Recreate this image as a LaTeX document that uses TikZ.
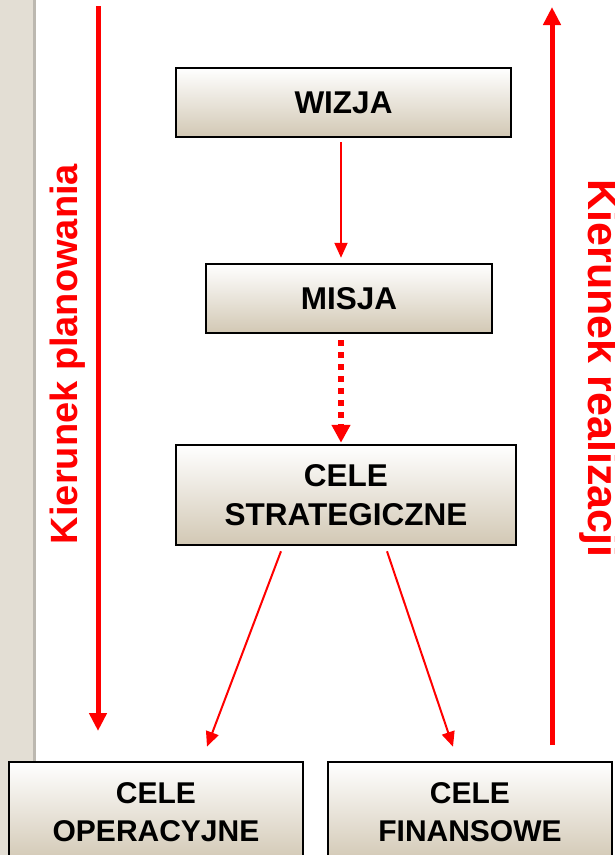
\documentclass[tikz,border=0pt]{standalone}
\usepackage{fontspec}
\setmainfont{Liberation Sans}
\usetikzlibrary{arrows.meta}
\definecolor{boxbeige}{RGB}{210,200,180}
\definecolor{stripbeige}{RGB}{227,222,212}
\definecolor{stripedge}{RGB}{188,184,176}
\tikzset{
  box/.style={draw=black,line width=2.5pt,top color=white,bottom color=boxbeige,
    font=\fontsize{31.5}{39}\selectfont\bfseries,align=center,inner sep=0pt},
  thinarr/.style={red,line width=2pt,-{Triangle[width=13pt,length=15pt]}},
  dotarr/.style={red,line width=6pt,dash pattern=on 6pt off 6pt,-{Triangle[width=18pt,length=18pt]}},
  bigarr/.style={red,line width=5pt,-{Triangle[width=17pt,length=18pt]}},
  side/.style={red,font=\fontsize{38}{40}\selectfont\bfseries,inner sep=0pt}
}

\begin{document}
\begin{tikzpicture}[x=1pt,y=-1pt]
            \path[use as bounding box] (0,0) rectangle (614,855);
            \clip (0,0) rectangle (614,855);
            % left strip
            \fill[stripbeige] (0,0) rectangle (34,855);
            \fill[stripedge] (33,0) rectangle (36,855);
            % boxes
            \node[box,minimum width=335pt,minimum height=69pt] (wizja) at (343.5,102.5) {WIZJA};
            \node[box,minimum width=286pt,minimum height=69pt] (misja) at (349,298.5) {MISJA};
            \node[box,minimum width=340pt,minimum height=100pt] (strat) at (346,495) {CELE\\STRATEGICZNE};
            \node[box,minimum width=294pt,minimum height=100pt,font=\fontsize{30}{38}\selectfont\bfseries] (oper) at (156,812) {CELE\\OPERACYJNE};
            \node[box,minimum width=284pt,minimum height=100pt,font=\fontsize{30}{38}\selectfont\bfseries] (fin) at (470,812) {CELE\\FINANSOWE};
            % links
            \draw[thinarr]([xshift=-2.5pt,yshift=-4pt]wizja.south)--([xshift=-8pt,yshift=5pt]misja.north);
            \draw[dotarr]([xshift=-8pt,yshift=-6pt]misja.south)--([xshift=-5pt,yshift=1pt]strat.north);
            \draw[thinarr]([xshift=-65pt,yshift=-5pt]strat.south)--([xshift=51pt,yshift=14pt]oper.north);
            \draw[thinarr]([xshift=41pt,yshift=-5pt]strat.south)--([xshift=-17pt,yshift=14pt]fin.north);
            % directions
            \coordinate (plantop) at (98,6);
            \coordinate (planbot) at (98,731);
            \coordinate (realbot) at (552,745);
            \coordinate (realtop) at (552,7);
            \draw[bigarr](plantop)--(planbot);
            \draw[bigarr](realbot)--(realtop);
            \node[side,rotate=90,anchor=base] (plan) at (77,354) {Kierunek planowania};
            \node[side,rotate=-90,anchor=base,font=\fontsize{43}{45}\selectfont\bfseries] (real) at (588,368.5) {Kierunek realizacji};
        \end{tikzpicture}
\end{document}
